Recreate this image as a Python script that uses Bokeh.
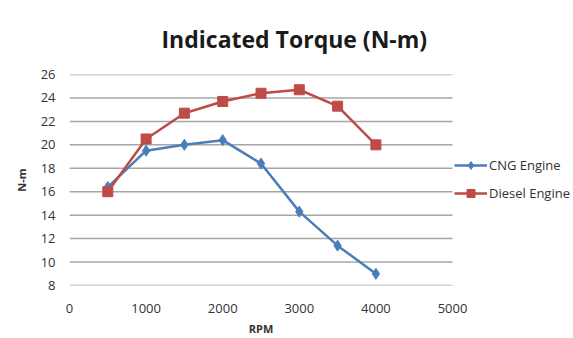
from bokeh.plotting import figure
from bokeh.models import Legend, LegendItem, FixedTicker, Range1d, Title, LinearAxis
from bokeh.embed import file_html
from bokeh.resources import INLINE

rpm = [500, 1000, 1500, 2000, 2500, 3000, 3500, 4000]
cng = [16.4, 19.5, 20.0, 20.4, 18.4, 14.3, 11.4, 9.0]
diesel = [16.0, 20.5, 22.7, 23.7, 24.4, 24.7, 23.3, 20.0]
x_ticks = [0, 1000, 2000, 3000, 4000, 5000]
y_ticks = [8, 10, 12, 14, 16, 18, 20, 22, 24, 26]
title_text = "Indicated Torque (N-m)"
x_label = "RPM"
y_label = "N-m"
series_names = ["CNG Engine", "Diesel Engine"]

FONT = "Open Sans"
BLUE = "#4a7ebb"
RED = "#be4b48"
GRID = "#a6a6a6"
TXT = "#333333"

# the frame spans to the right edge so the legend can sit inside it;
# the plotted x axis covers 0..5000 over 383 of its 504 pixels
X_MAX = 5000 * 504 / 383

p = figure(width=573, height=338, output_backend="svg", toolbar_location=None,
           x_range=Range1d(0, X_MAX), y_range=Range1d(8, 26),
           min_border_left=69, min_border_right=0, min_border_top=73,
           min_border_bottom=0)
p.outline_line_color = None
p.background_fill_color = "white"
p.border_fill_color = "white"

p.xaxis.ticker = FixedTicker(ticks=x_ticks)
p.yaxis.ticker = FixedTicker(ticks=y_ticks)
for ax in (p.xaxis[0], p.yaxis[0]):
    ax.major_tick_line_color = None
    ax.minor_tick_line_color = None
    ax.major_tick_out = 0
    ax.minor_tick_out = 0
    ax.axis_line_color = None
    ax.major_label_text_font = FONT
    ax.major_label_text_font_size = "13px"
    ax.major_label_text_color = TXT
p.xaxis.major_label_standoff = 18
p.yaxis.major_label_standoff = 14
p.yaxis.axis_label = y_label
p.yaxis.axis_label_text_font = FONT
p.yaxis.axis_label_text_font_size = "11px"
p.yaxis.axis_label_text_font_style = "bold"
p.yaxis.axis_label_text_color = TXT
p.yaxis.axis_label_standoff = 9
p.xgrid.grid_line_color = None
p.ygrid.grid_line_color = None

# horizontal gridlines over the 0..5000 axis span
p.segment(x0=[x_ticks[0]] * len(y_ticks), x1=[x_ticks[-1]] * len(y_ticks),
          y0=y_ticks, y1=y_ticks, line_color=GRID, line_width=1.5)

l1 = p.line(rpm, cng, line_color=BLUE, line_width=2.5)
m1 = p.scatter(rpm, cng, marker="diamond", size=11, fill_color=BLUE, line_color=BLUE)
l2 = p.line(rpm, diesel, line_color=RED, line_width=2.5)
m2 = p.scatter(rpm, diesel, marker="square", size=10, fill_color=RED, line_color=RED)

legend = Legend(items=[LegendItem(label=series_names[0], renderers=[l1, m1]),
                       LegendItem(label=series_names[1], renderers=[l2, m2])],
                location=(385, 82), padding=0, margin=0, spacing=8,
                glyph_width=33, glyph_height=20, label_height=20,
                label_standoff=2, border_line_color=None,
                background_fill_alpha=0, label_text_font=FONT,
                label_text_font_size="13px", label_text_color=TXT)
p.add_layout(legend, "center")

p.add_layout(Title(text=title_text, align="left", offset=92, text_font=FONT,
                   text_font_size="23px", text_font_style="bold",
                   text_color="#1a1a1a", standoff=40), "above")

# x-axis title, centred under the 0..5000 axis span
xt = LinearAxis(ticker=FixedTicker(ticks=[(x_ticks[0] + x_ticks[-1]) / 2]),
                major_label_overrides={(x_ticks[0] + x_ticks[-1]) / 2: x_label},
                axis_line_color=None, major_tick_line_color=None,
                minor_tick_line_color=None, major_tick_out=0, minor_tick_out=0,
                major_label_standoff=5,
                major_label_text_font=FONT, major_label_text_font_size="11px",
                major_label_text_font_style="bold",
                major_label_text_color=TXT)
p.add_layout(xt, "below")

open("out.html", "w").write(file_html(p, INLINE))
